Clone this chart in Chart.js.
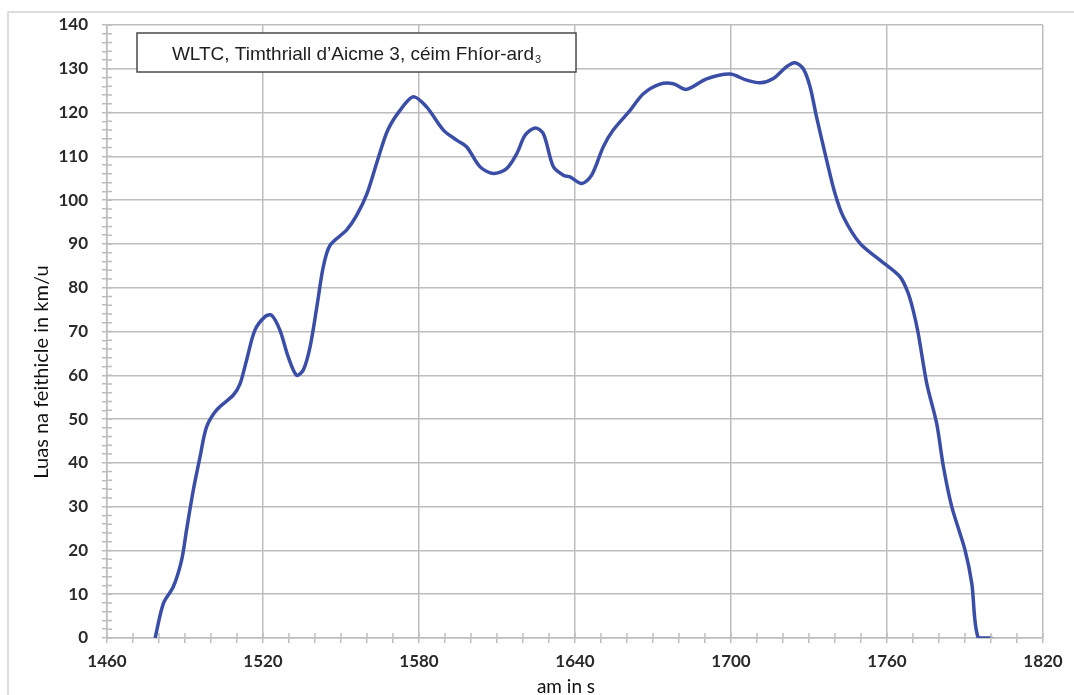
<!DOCTYPE html>
<html>
<head>
<meta charset="utf-8">
<script src="https://cdn.jsdelivr.net/npm/chart.js@4.4.1/dist/chart.umd.min.js"></script>
<style>
  html, body { margin: 0; padding: 0; background: #fff; overflow: hidden; }
</style>
</head>
<body>
<canvas id="myChart" width="1074" height="695"></canvas>
<script>
// WLTC class 3, extra-high phase
const times = [1478.5, 1481.7, 1485.5, 1488.7, 1490.6, 1493.2, 1495.8, 1498.3, 1502.2, 1508.6,
  1511.2, 1513.7, 1516.9, 1520.8, 1523.3, 1526.5, 1529.7, 1532.9, 1535.5, 1538.1,
  1540.7, 1543.2, 1545.8, 1552.2, 1556, 1560, 1564, 1568, 1572.7, 1577.8,
  1582.9, 1589.4, 1594.5, 1598.3, 1603.5, 1608.6, 1613.7, 1617.6, 1620.8, 1624.6,
  1627.8, 1631.7, 1635.5, 1638.1, 1642.6, 1646.4, 1650.9, 1654.7, 1661.2, 1666.3,
  1672.7, 1677.8, 1682.9, 1690.6, 1699.6, 1706.0, 1711.2, 1716.3, 1721.4, 1724.6,
  1727.8, 1730.4, 1732.9, 1736.8, 1740.0, 1743.2, 1749.6, 1757.3, 1765.0, 1768.0,
  1770.0, 1772.0, 1775.3, 1779.1, 1781.7, 1784.9, 1790.0, 1792.6, 1795.1, 1800.5];
const speeds = [0, 7.9, 11.7, 17.8, 24.7, 33.8, 41.4, 48.2, 52.1, 55.5,
  58.1, 63.5, 70.3, 73.4, 73.7, 70.3, 64.2, 60.0, 61.2, 66.5,
  75.6, 84.8, 89.7, 93.2, 96.5, 101.5, 109, 116, 120.5, 123.6,
  121.3, 116.0, 113.7, 112.2, 107.6, 106.1, 107.2, 110.6, 114.8, 116.5,
  115.2, 107.6, 105.7, 105.3, 103.8, 105.7, 112.2, 116.0, 120.5, 124.3,
  126.5, 126.6, 125.3, 127.7, 128.8, 127.4, 126.8, 127.8, 130.5, 131.4,
  130.0, 125.9, 119.0, 109.1, 101.5, 96.2, 90.1, 86.3, 82.5, 79.0,
  75.0, 69.6, 58.1, 49.0, 39.1, 30.0, 20.1, 12.5, 0, 0];

const xMin = 1460, xMax = 1820, xMajor = 60, xMinor = 10;
const yMin = 0, yMax = 140, yMajor = 10, yMinor = 2;

const titleMain = 'WLTC, Timthriall d’Aicme 3, céim Fhíor-ard';
const titleSub = '3';
const xLabel = 'am in s';
const yLabel = 'Luas na feithicle in km/u';

const gridColor = '#bdbdbd';
const lineColor = '#3a4ea7';

// extra drawing: outer frame, inward halves of the minor ticks, title box, axis titles
const decor = {
  id: 'decor',
  beforeDraw(chart) {
    const c = chart.ctx;
    c.save();
    c.fillStyle = '#fff';
    c.fillRect(0, 0, chart.width, chart.height);
    c.strokeStyle = '#d2d2d2';
    c.lineWidth = 1.5;
    c.strokeRect(8, 12, chart.width + 20, chart.height + 20);
    c.restore();
  },
  afterDraw(chart) {
    const c = chart.ctx, a = chart.chartArea;
    const xs = chart.scales.x, ys = chart.scales.y;
    c.save();
    c.strokeStyle = gridColor;
    c.lineWidth = 1.5;
    c.beginPath();
    xs.ticks.forEach(t => {
      const p = xs.getPixelForValue(t.value);
      c.moveTo(p, a.bottom); c.lineTo(p, a.bottom - 5);
    });
    ys.ticks.forEach(t => {
      const p = ys.getPixelForValue(t.value);
      c.moveTo(a.left, p); c.lineTo(a.left + 5, p);
    });
    c.stroke();

    // title box
    const bx = a.left + 30, by = a.top + 8, bw = 439, bh = 39;
    c.fillStyle = '#fff';
    c.fillRect(bx, by, bw, bh);
    c.strokeStyle = '#4a4a4a';
    c.lineWidth = 1.5;
    c.strokeRect(bx, by, bw, bh);
    c.fillStyle = '#1e1e1e';
    c.textBaseline = 'alphabetic';
    c.font = '19px "Liberation Sans", Arial, sans-serif';
    const wMain = c.measureText(titleMain).width;
    c.font = '11px "Liberation Sans", Arial, sans-serif';
    const wSub = c.measureText(titleSub).width;
    const tx = bx + (bw - wMain - wSub - 1) / 2;
    const base = by + bh / 2 + 7;
    c.font = '19px "Liberation Sans", Arial, sans-serif';
    c.textAlign = 'left';
    c.fillText(titleMain, tx, base);
    c.font = '11px "Liberation Sans", Arial, sans-serif';
    c.fillText(titleSub, tx + wMain + 1, base + 3);

    // axis titles
    c.fillStyle = '#111';
    c.font = '19px Lato, sans-serif';
    c.textAlign = 'center';
    c.textBaseline = 'middle';
    c.fillText(xLabel, 566, 687);
    c.font = '20px Lato, sans-serif';
    c.translate(42, 372);
    c.rotate(-Math.PI / 2);
    c.fillText(yLabel, 0, 0);
    c.restore();
  }
};

const ctx = document.getElementById('myChart').getContext('2d');
const myChart = new Chart(ctx, {
  type: 'line',
  data: {
    datasets: [{
      data: times.map((t, i) => ({ x: t, y: speeds[i] })),
      borderColor: lineColor,
      borderWidth: 3.5,
      pointRadius: 0,
      fill: false,
      tension: 0.3
    }]
  },
  options: {
    responsive: false,
    animation: false,
    layout: { padding: { left: 0, right: 31, top: 25, bottom: 0 } },
    plugins: {
      legend: { display: false },
      tooltip: { enabled: false }
    },
    scales: {
      x: {
        type: 'linear',
        min: xMin,
        max: xMax,
        afterFit: s => { s.height = 57; },
        ticks: {
          stepSize: xMinor,
          autoSkip: false,
          maxRotation: 0,
          padding: 8,
          color: '#2a2a2a',
          font: { family: 'Lato', size: 17, weight: 'bold' },
          callback: v => ((v - xMin) % xMajor === 0 ? String(v) : '')
        },
        grid: {
          color: c => (c.tick && (c.tick.value - xMin) % xMajor === 0 ? gridColor : 'rgba(0,0,0,0)'),
          tickColor: gridColor,
          tickLength: 5,
          lineWidth: 1.5
        },
        border: { color: gridColor, width: 1.5 }
      },
      y: {
        min: yMin,
        max: yMax,
        afterFit: s => { s.width = 107; },
        ticks: {
          stepSize: yMinor,
          autoSkip: false,
          padding: 14,
          color: '#2a2a2a',
          font: { family: 'Lato', size: 17, weight: 'bold' },
          callback: v => (v % yMajor === 0 ? String(v) : '')
        },
        grid: {
          color: c => (c.tick && c.tick.value % yMajor === 0 ? gridColor : 'rgba(0,0,0,0)'),
          tickColor: gridColor,
          tickLength: 5,
          lineWidth: 1.5
        },
        border: { color: gridColor, width: 1.5 }
      }
    }
  },
  plugins: [decor]
});
</script>
</body>
</html>
